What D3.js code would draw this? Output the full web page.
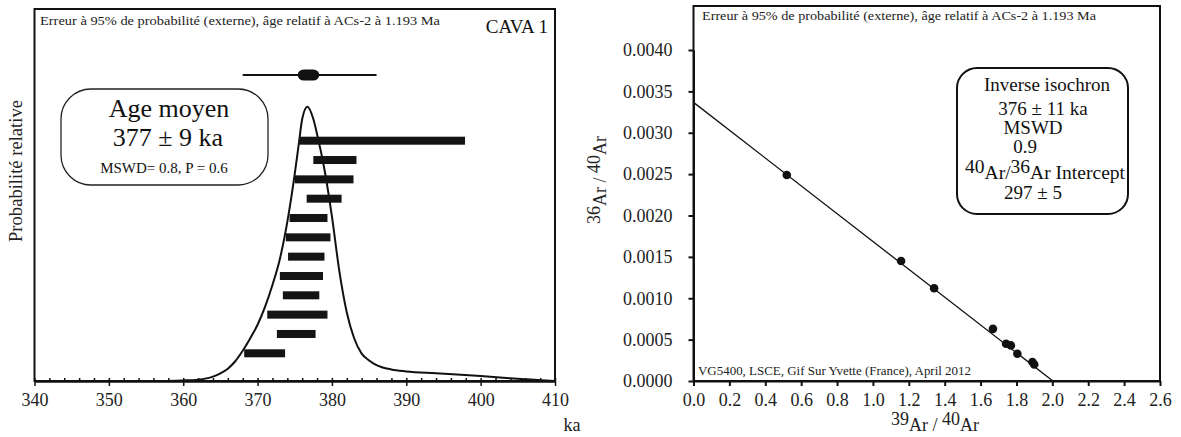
<!DOCTYPE html>
<html><head><meta charset="utf-8">
<script src="https://cdn.jsdelivr.net/npm/d3@7"></script>
<style>
html,body{margin:0;padding:0;background:#fff;}
svg{display:block;}
svg text{font-family:"Liberation Serif","Times New Roman",serif !important;}
</style></head>
<body>
<svg id="chart" width="1181" height="437"></svg>
<script>
// ---------- Left panel data (age probability diagram) ----------
const ageTicks = [340, 350, 360, 370, 380, 390, 400, 410];
const ageMinorTicks = d3.range(340, 411, 2);
const barLow  = [375.6, 377.5, 375.0, 376.6, 374.3, 373.8, 374.1, 373.0, 373.4, 371.3, 372.6, 368.2];
const barHigh = [397.9, 383.3, 382.9, 381.3, 379.4, 379.8, 379.0, 378.8, 378.3, 379.4, 377.8, 373.7];
const meanAge = 377, meanErr = 9;
const meanBox = [375.4, 378.3];
const probKa  = [340, 356, 360, 362, 364, 365, 366, 367, 368, 369, 370, 371, 372, 373, 374, 375, 375.6, 376, 376.7, 377.5, 378, 379, 380, 381, 382, 383, 384, 385, 386, 388, 390, 394, 400, 403, 406, 410];
const probVal = [0, 0, 0.002, 0.005, 0.016, 0.028, 0.045, 0.072, 0.110, 0.155, 0.205, 0.270, 0.350, 0.445, 0.580, 0.755, 0.876, 0.955, 1.0, 0.955, 0.90, 0.77, 0.60, 0.40, 0.25, 0.155, 0.10, 0.075, 0.058, 0.042, 0.035, 0.028, 0.018, 0.012, 0.006, 0.0];
const subtitle = "Erreur à 95% de probabilité (externe), âge relatif à ACs-2 à 1.193 Ma";

// ---------- Right panel data (inverse isochron) ----------
const isoXTicks = [0, 0.2, 0.4, 0.6, 0.8, 1.0, 1.2, 1.4, 1.6, 1.8, 2.0, 2.2, 2.4, 2.6];
const isoYTicks = [0, 0.0005, 0.0010, 0.0015, 0.0020, 0.0025, 0.0030, 0.0035, 0.0040];
const isoX = [0.52, 1.157, 1.341, 1.669, 1.742, 1.769, 1.805, 1.889, 1.899];
const isoY = [0.00249, 0.00145, 0.00112, 0.00063, 0.00045, 0.00043, 0.00033, 0.00023, 0.00020];
const lineYIntercept = 0.003367, lineXIntercept = 2.003;

const svg = d3.select("#chart");

// ================= LEFT PANEL =================
const L = {x0: 34.5, x1: 555, y0: 9, y1: 381};
const xAge = d3.scaleLinear().domain([340, 410]).range([L.x0, L.x1]);
const yProb = d3.scaleLinear().domain([0, 1]).range([L.y1, 106.7]);
const yRow = d3.scaleLinear().domain([0, barLow.length - 1]).range([140.7, 353.3]);

svg.append("rect").attr("x", L.x0).attr("y", L.y0).attr("width", L.x1 - L.x0).attr("height", L.y1 - L.y0)
  .attr("fill", "none").attr("stroke", "#111").attr("stroke-width", 2);

const probData = probKa.map((k, i) => [k, probVal[i]]);
svg.append("path").datum(probData)
  .attr("d", d3.line().x(d => xAge(d[0])).y(d => yProb(d[1])).curve(d3.curveMonotoneX))
  .attr("fill", "none").attr("stroke", "#111").attr("stroke-width", 2);

svg.append("g").selectAll("rect").data(barLow).join("rect")
  .attr("x", d => xAge(d))
  .attr("y", (d, i) => yRow(i) - 4)
  .attr("width", (d, i) => xAge(barHigh[i]) - xAge(d))
  .attr("height", 8)
  .attr("fill", "#141414");

const yMean = 75;
svg.append("line").attr("x1", xAge(meanAge - meanErr)).attr("x2", xAge(meanAge + meanErr))
  .attr("y1", yMean).attr("y2", yMean).attr("stroke", "#111").attr("stroke-width", 2);
svg.append("rect").attr("x", xAge(meanBox[0])).attr("y", yMean - 5.5)
  .attr("width", xAge(meanBox[1]) - xAge(meanBox[0])).attr("height", 11)
  .attr("rx", 6).attr("fill", "#111");

const axL = svg.append("g").attr("transform", `translate(0,${L.y1})`)
  .call(d3.axisBottom(xAge).tickValues(ageTicks).tickSize(5).tickSizeOuter(0).tickPadding(7).tickFormat(d3.format("d")));
const axLm = svg.append("g").attr("transform", `translate(0,${L.y1})`)
  .call(d3.axisTop(xAge).tickValues(ageMinorTicks).tickSize(3).tickSizeOuter(0).tickFormat(""));
[axL, axLm].forEach(a => {
  a.select(".domain").attr("stroke", "#111").attr("stroke-width", 2);
  a.selectAll(".tick line").attr("stroke", "#111").attr("stroke-width", 1.5);
});
axL.selectAll("text").attr("font-size", 18).attr("fill", "#222");
svg.append("text").attr("x", 572).attr("y", 431).attr("text-anchor", "middle").attr("font-size", 18).attr("fill", "#222").text("ka");

svg.append("text").attr("transform", "translate(22,171) rotate(-90)").attr("text-anchor", "middle")
  .attr("font-size", 18).attr("fill", "#222")
  .attr("textLength", 142).attr("lengthAdjust", "spacingAndGlyphs").text("Probabilité relative");

svg.append("text").attr("x", 40).attr("y", 25).attr("font-size", 12).attr("fill", "#222")
  .attr("textLength", 400).attr("lengthAdjust", "spacingAndGlyphs").text(subtitle);
svg.append("text").attr("x", 548).attr("y", 33).attr("text-anchor", "end").attr("font-size", 19).attr("fill", "#111").text("CAVA 1");

svg.append("rect").attr("x", 61).attr("y", 89).attr("width", 207).attr("height", 96).attr("rx", 30)
  .attr("fill", "none").attr("stroke", "#222").attr("stroke-width", 1.3);
svg.append("text").attr("x", 169).attr("y", 117).attr("text-anchor", "middle").attr("font-size", 26).attr("fill", "#111").text("Age moyen");
svg.append("text").attr("x", 168).attr("y", 146).attr("text-anchor", "middle").attr("font-size", 26).attr("fill", "#111").text("377 ± 9 ka");
svg.append("text").attr("x", 164).attr("y", 173).attr("text-anchor", "middle").attr("font-size", 15).attr("fill", "#111").text("MSWD= 0.8, P = 0.6");

// ================= RIGHT PANEL =================
const R = {x0: 693.5, x1: 1160, y0: 6, y1: 381};
const xIso = d3.scaleLinear().domain([0, 2.6]).range([R.x0, R.x1]);
const yIso = d3.scaleLinear().domain([0, 0.004]).range([R.y1, 50]);

svg.append("rect").attr("x", R.x0).attr("y", R.y0).attr("width", R.x1 - R.x0).attr("height", R.y1 - R.y0)
  .attr("fill", "none").attr("stroke", "#111").attr("stroke-width", 2);

svg.append("line").attr("x1", xIso(0)).attr("y1", yIso(lineYIntercept))
  .attr("x2", xIso(lineXIntercept)).attr("y2", yIso(0))
  .attr("stroke", "#111").attr("stroke-width", 1.3);

svg.append("g").selectAll("circle").data(isoX).join("circle")
  .attr("cx", d => xIso(d)).attr("cy", (d, i) => yIso(isoY[i])).attr("r", 4.3).attr("fill", "#111");

const axRx = svg.append("g").attr("transform", `translate(0,${R.y1})`)
  .call(d3.axisBottom(xIso).tickValues(isoXTicks).tickSize(5).tickSizeOuter(0).tickPadding(7).tickFormat(d3.format(".1f")));
const axRy = svg.append("g").attr("transform", `translate(${R.x0},0)`)
  .call(d3.axisLeft(yIso).tickValues(isoYTicks).tickSize(5).tickSizeOuter(0).tickPadding(16).tickFormat(d3.format(".4f")));
[axRx, axRy].forEach(a => {
  a.select(".domain").attr("stroke", "#111").attr("stroke-width", 2);
  a.selectAll(".tick line").attr("stroke", "#111").attr("stroke-width", 2);
  a.selectAll("text").attr("font-size", 18).attr("fill", "#222");
});

function isoLabel(sel, parts) {
  parts.forEach(p => sel.append("tspan").attr("dy", p.dy).text(p.t));
}
const xt = svg.append("text").attr("x", 935).attr("y", 431).attr("text-anchor", "middle").attr("font-size", 18).attr("fill", "#222");
isoLabel(xt, [{t: "39", dy: -6}, {t: "Ar / ", dy: 6}, {t: "40", dy: -6}, {t: "Ar", dy: 6}]);
const yt = svg.append("text").attr("transform", "translate(606,180) rotate(-90)").attr("text-anchor", "middle").attr("font-size", 18).attr("fill", "#222");
isoLabel(yt, [{t: "36", dy: -6}, {t: "Ar / ", dy: 6}, {t: "40", dy: -6}, {t: "Ar", dy: 6}]);

svg.append("text").attr("x", 702).attr("y", 20).attr("font-size", 12).attr("fill", "#222")
  .attr("textLength", 394).attr("lengthAdjust", "spacingAndGlyphs").text(subtitle);
svg.append("text").attr("x", 698).attr("y", 375).attr("font-size", 12).attr("fill", "#222")
  .attr("textLength", 273).attr("lengthAdjust", "spacingAndGlyphs").text("VG5400, LSCE, Gif Sur Yvette (France), April 2012");

svg.append("rect").attr("x", 957).attr("y", 68).attr("width", 171).attr("height", 146).attr("rx", 20)
  .attr("fill", "none").attr("stroke", "#111").attr("stroke-width", 2);
const boxLines = [
  {t: "Inverse isochron", x: 1047, y: 91},
  {t: "376 ± 11 ka", x: 1043, y: 115},
  {t: "MSWD", x: 1033, y: 134},
  {t: "0.9", x: 1025, y: 153},
];
boxLines.forEach(b => svg.append("text").attr("x", b.x).attr("y", b.y).attr("text-anchor", "middle")
  .attr("font-size", 19).attr("fill", "#111").text(b.t));
const ic = svg.append("text").attr("x", 1045).attr("y", 179).attr("text-anchor", "middle").attr("font-size", 19).attr("fill", "#111")
  .attr("textLength", 160).attr("lengthAdjust", "spacingAndGlyphs");
isoLabel(ic, [{t: "40", dy: -6}, {t: "Ar/", dy: 6}, {t: "36", dy: -6}, {t: "Ar Intercept", dy: 6}]);
svg.append("text").attr("x", 1033).attr("y", 199).attr("text-anchor", "middle").attr("font-size", 19).attr("fill", "#111").text("297 ± 5");
</script>
</body></html>
